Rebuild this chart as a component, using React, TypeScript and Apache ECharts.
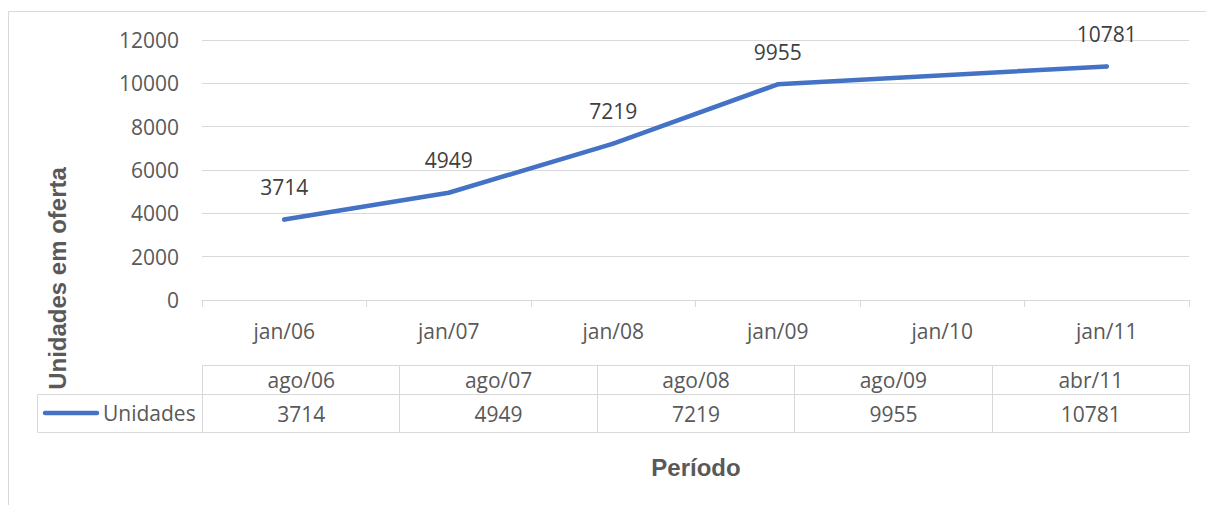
import React, { useEffect, useRef } from "react";
import * as echarts from "echarts";

// ---- data ----
const periodTicks: string[] = ["jan/06", "jan/07", "jan/08", "jan/09", "jan/10", "jan/11"];
const observationDates: string[] = ["ago/06", "ago/07", "ago/08", "ago/09", "abr/11"];
const unidades: number[] = [3714, 4949, 7219, 9955, 10781];
const seriesName = "Unidades";
const yTitle = "Unidades em oferta";
const xTitle = "Período";
const yMin = 0;
const yMax = 12000;
const yInterval = 2000;

const FONT = "'Open Sans', 'Noto Sans', sans-serif";
const TITLE_FONT = "'Liberation Sans', Arial, sans-serif";
const GRID = "#d9d9d9";
const TXT = "#595959";
const LINE = "#4472C4";

export default function App() {
  const ref = useRef<HTMLDivElement>(null);

  useEffect(() => {
    if (!ref.current) return;
    const chart = echarts.init(ref.current, undefined, { renderer: "svg" });

    // place each observation into the year band it belongs to
    const seriesData = periodTicks.map((t) => {
      const idx = observationDates.findIndex((d) => d.slice(-2) === t.slice(-2));
      return idx >= 0 ? unidades[idx] : null;
    });

    // table geometry (layout only)
    const tL = 202.5, tR = 1189.5, legL = 37.5;
    const rTop = 365.5, rMid = 394.5, rBot = 432.5;
    const n = observationDates.length;
    const colW = (tR - tL) / n;

    const g: any[] = [];
    // outer border
    g.push({
      type: "rect",
      shape: { x: 8.5, y: 11.5, width: 1215, height: 520 },
      style: { fill: "none", stroke: GRID, lineWidth: 1 },
      silent: true,
    });
    const ln = (x1: number, y1: number, x2: number, y2: number) =>
      g.push({ type: "line", shape: { x1, y1, x2, y2 }, style: { stroke: GRID, lineWidth: 1 }, silent: true });
    ln(tL, rTop, tR, rTop);
    ln(legL, rMid, tR, rMid);
    ln(legL, rBot, tR, rBot);
    ln(legL, rMid, legL, rBot);
    for (let i = 0; i <= n; i++) {
      const x = Math.round(tL + colW * i - 0.5) + 0.5;
      ln(x, rTop, x, rBot);
    }
    observationDates.forEach((d, i) => {
      const cx = tL + colW * (i + 0.5);
      g.push({
        type: "text",
        x: cx,
        y: (rTop + rMid) / 2,
        style: { text: d, fill: TXT, font: `21px ${FONT}`, textAlign: "center", textVerticalAlign: "middle" },
        silent: true,
      });
      g.push({
        type: "text",
        x: cx,
        y: (rMid + rBot) / 2,
        style: { text: String(unidades[i]), fill: TXT, font: `21px ${FONT}`, textAlign: "center", textVerticalAlign: "middle" },
        silent: true,
      });
    });
    // legend key in table
    g.push({
      type: "line",
      shape: { x1: 45, y1: 413, x2: 97, y2: 413 },
      style: { stroke: LINE, lineWidth: 4.5, lineCap: "round" },
      silent: true,
    });
    g.push({
      type: "text",
      x: 103,
      y: 413,
      style: { text: seriesName, fill: TXT, font: `21px ${FONT}`, textAlign: "left", textVerticalAlign: "middle" },
      silent: true,
    });
    // axis titles
    g.push({
      type: "text",
      x: 57,
      y: 278.5,
      rotation: Math.PI / 2,
      style: { text: yTitle, fill: TXT, font: `bold 24px ${TITLE_FONT}`, textAlign: "center", textVerticalAlign: "middle" },
      silent: true,
    });
    g.push({
      type: "text",
      x: 696,
      y: 467,
      style: { text: xTitle, fill: TXT, font: `bold 24px ${TITLE_FONT}`, textAlign: "center", textVerticalAlign: "middle" },
      silent: true,
    });

    chart.setOption({
      animation: false,
      grid: { left: 202, right: 17, top: 40, bottom: 205, containLabel: false },
      xAxis: {
        type: "category",
        data: periodTicks,
        boundaryGap: true,
        axisLine: { show: true, lineStyle: { color: GRID, width: 1 } },
        axisTick: { show: true, length: 7, alignWithLabel: false, interval: 0, lineStyle: { color: GRID } },
        axisLabel: { color: TXT, fontSize: 21, fontFamily: FONT, margin: 20, interval: 0, lineHeight: 21 },
        splitLine: { show: false },
      },
      yAxis: {
        type: "value",
        min: yMin,
        max: yMax,
        interval: yInterval,
        axisLine: { show: false },
        axisTick: { show: false },
        axisLabel: { color: TXT, fontSize: 21, fontFamily: FONT, margin: 23, formatter: (v: number) => String(v) },
        splitLine: { lineStyle: { color: GRID, width: 1 } },
      },
      series: [
        {
          type: "line",
          name: seriesName,
          data: seriesData,
          connectNulls: true,
          showSymbol: true,
          symbol: "circle",
          symbolSize: 4,
          lineStyle: { color: LINE, width: 4.5, cap: "round", join: "round" },
          itemStyle: { color: LINE },
          label: {
            show: true,
            position: "top",
            distance: 20,
            color: "#404040",
            fontSize: 21,
            fontFamily: FONT,
            lineHeight: 21,
            formatter: (p: any) => String(p.value),
          },
        },
      ],
      graphic: g,
    });

    return () => chart.dispose();
  }, []);

  return (
    <div
      ref={ref}
      style={{ position: "fixed", left: 0, top: 0, width: 1206, height: 505, background: "#fff" }}
    />
  );
}
